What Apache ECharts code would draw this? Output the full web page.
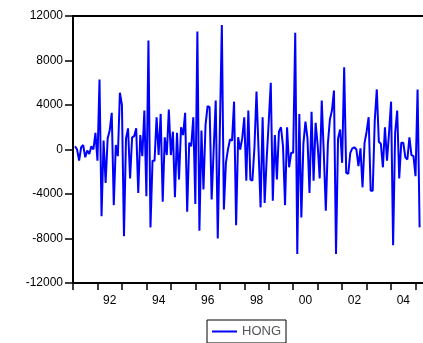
<!DOCTYPE html>
<html>
<head>
<meta charset="utf-8">
<script src="https://cdn.jsdelivr.net/npm/echarts@6/dist/echarts.min.js"></script>
<style>
  html, body { margin: 0; padding: 0; background: #fff; overflow: hidden; }
  /* the plot runs on past the right edge of the window */
  #chart { width: 443px; height: 343px; }
</style>
</head>
<body>
<div id="chart"></div>
<script>
// Monthly HONG series, one array per calendar year (1991 starts in February).
const startYear = 1991;
const startMonth = 2;
const hong1991 = [300, 0, -1000, 200, 400, -700, -100, -400, 300, 0, 1500];
const hong1992 = [-1000, 6300, -6000, 800, -3000, 1000, 1700, 3300, -5000, 400, -600, 5100];
const hong1993 = [4000, -7800, 1000, 1900, -2600, 1100, 1200, 1900, -3900, 1300, -600, 3500];
const hong1994 = [-4200, 9800, -7000, -1000, -1000, 2900, -500, 3200, -4700, 1100, -500, 3600];
const hong1995 = [-500, 1600, -4300, 1500, -2700, 2000, 1300, 3300, -5600, 600, 300, 2900];
const hong1996 = [-4900, 10600, -7300, 1700, -3600, 2200, 3900, 3800, -4500, 0, 4400, -8000];
const hong1997 = [1500, 11200, -5400, -1200, 0, 900, 800, 4300, -6800, 1100, 0, 1000];
const hong1998 = [2900, -2800, 3500, -2700, -2800, 200, 5200, 0, -5200, 2900, -4800, -800];
const hong1999 = [2500, 6000, -4600, 1300, -2700, 1600, 2000, 300, -5000, 2000, -1600, -300];
const hong2000 = [-300, 10500, -9400, 3200, -6100, 500, 2500, 1000, -3900, 3400, -2800, 2400];
const hong2001 = [400, -2600, 4400, -300, -5500, 500, 2700, 3500, 5300, -9400, 1000, 1800];
const hong2002 = [-1200, 7400, -2100, -2200, -300, 100, 200, 0, -1500, 100, -3400, 600];
const hong2003 = [1600, 2900, -3700, -3700, 2600, 5400, 700, 500, -1600, 2000, -1000, 1500];
const hong2004 = [4300, -8600, 1500, 3500, -2600, 600, 600, -700, -900, 1100, -500, -600];
const hong2005 = [-2400, 5400, -7000];

// Axis ticks and labels
const yTicks = [-12000, -8000, -4000, 0, 4000, 8000, 12000];
const xLabelYears = [1992, 1994, 1996, 1998, 2000, 2002, 2004];
const xLabelText = ['92', '94', '96', '98', '00', '02', '04'];
const seriesName = 'HONG';

const yearly = [hong1991, hong1992, hong1993, hong1994, hong1995, hong1996, hong1997,
  hong1998, hong1999, hong2000, hong2001, hong2002, hong2003, hong2004, hong2005];

// Build [time, value] pairs: month m of year y sits at y + (m - 1) / 12
const points = [];
yearly.forEach((arr, i) => {
  const year = startYear + i;
  const firstMonth = i === 0 ? startMonth : 1;
  arr.forEach((v, j) => points.push([year + (firstMonth - 1 + j) / 12, v]));
});

const chart = echarts.init(document.getElementById('chart'), null, { renderer: 'canvas' });
chart.setOption({
  animation: false,
  textStyle: { fontFamily: 'Liberation Sans, Arial, sans-serif', fontSize: 13, color: '#000' },
  grid: { left: 73, top: 16, right: 0, bottom: 60, show: true, borderColor: '#000', borderWidth: 2 },
  legend: {
    data: [seriesName], left: 207, top: 320,
    borderColor: '#000', borderWidth: 1,
    icon: 'rect', itemWidth: 25, itemHeight: 2
  },
  xAxis: [{
    type: 'value', min: 1991, max: 2006, interval: 1,
    axisLine: { show: true, onZero: false, lineStyle: { color: '#000', width: 2 } },
    axisTick: { show: true, length: 7, lineStyle: { color: '#000', width: 1.5 } },
    splitLine: { show: false },
    axisLabel: {
      // each even year is labelled in the middle of its tick interval
      color: '#000', margin: 12, align: 'center', padding: [0, 0, 0, 24.6],
      formatter: (v) => {
        const idx = xLabelYears.indexOf(Math.round(v));
        return idx >= 0 ? xLabelText[idx] : '';
      }
    }
  }],
  yAxis: {
    type: 'value', min: yTicks[0], max: yTicks[yTicks.length - 1], interval: 4000,
    axisLine: { show: true, onZero: false, lineStyle: { color: '#000', width: 2 } },
    axisTick: { show: true, length: 8, lineStyle: { color: '#000', width: 1.5 } },
    splitLine: { show: false },
    axisLabel: { color: '#000', margin: 10, formatter: (v) => String(v) }
  },
  series: [{ name: seriesName, type: 'line', data: points, showSymbol: false, symbol: 'none', color: '#00f' }]
});
// bring the display list up to date and paint right away
chart.getZr().storage.getDisplayList(true, true);
chart.getZr().refreshImmediately();
</script>
</body>
</html>
